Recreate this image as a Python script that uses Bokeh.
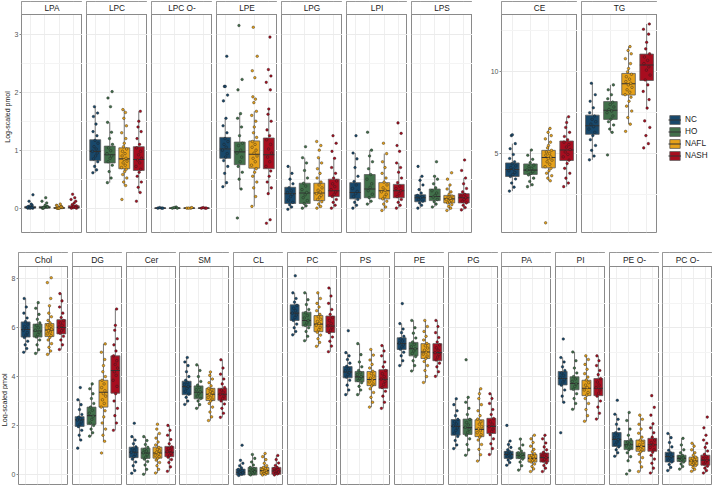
from bokeh.plotting import figure
from bokeh.models import FixedTicker, Range1d, ColumnDataSource, Legend, LegendItem, Grid
from bokeh.layouts import row, column
from bokeh.core.properties import value
from bokeh.embed import file_html
from bokeh.resources import INLINE
import math

# ---------------- data ----------------
GROUPS = ["NC", "HO", "NAFL", "NASH"]
COLORS = ["#18486B", "#41704A", "#E6A11A", "#A80D1F"]

FACETS_TOP_LEFT = ["LPA", "LPC", "LPC O-", "LPE", "LPG", "LPI", "LPS"]
FACETS_TOP_RIGHT = ["CE", "TG"]
FACETS_BOTTOM = ["Chol", "DG", "Cer", "SM", "CL", "PC", "PS", "PE", "PG", "PA", "PI", "PE O-", "PC O-"]

TICKS_TOP_LEFT = [0, 1, 2, 3]
MINOR_TOP_LEFT = [-0.5, 0.5, 1.5, 2.5, 3.5]
TICKS_TOP_RIGHT = [5, 10]
MINOR_TOP_RIGHT = [2.5, 7.5, 12.5]
TICKS_BOTTOM = [0, 2, 4, 6, 8]
MINOR_BOTTOM = [1, 3, 5, 7]
Y_TITLE = "Log-scaled pmol"

# box statistics per facet, order NC, HO, NAFL, NASH
Q1 = {
    "LPA": [0.0, 0.0, 0.0, 0.0], "LPC": [0.82, 0.78, 0.68, 0.65],
    "LPC O-": [-0.005, -0.005, -0.005, -0.005], "LPE": [0.86, 0.75, 0.69, 0.68],
    "LPG": [0.08, 0.08, 0.13, 0.20], "LPI": [0.16, 0.18, 0.16, 0.18],
    "LPS": [0.11, 0.13, 0.09, 0.09], "CE": [3.60, 3.73, 4.13, 4.58],
    "TG": [6.18, 7.09, 8.58, 9.47], "Chol": [5.62, 5.62, 5.64, 5.75],
    "DG": [1.96, 2.04, 2.75, 3.32], "Cer": [0.68, 0.65, 0.66, 0.72],
    "SM": [3.26, 3.09, 3.02, 3.03], "CL": [-0.03, -0.03, 0.0, 0.0],
    "PC": [6.30, 6.07, 5.84, 5.81], "PS": [3.95, 3.79, 3.63, 3.52],
    "PE": [5.11, 4.85, 4.74, 4.65], "PG": [1.60, 1.63, 1.54, 1.67],
    "PA": [0.65, 0.64, 0.50, 0.50], "PI": [3.66, 3.46, 3.22, 3.22],
    "PE O-": [1.14, 1.01, 0.94, 0.94], "PC O-": [0.50, 0.52, 0.37, 0.37],
}
MED = {
    "LPA": [0.01, 0.01, 0.0, 0.01], "LPC": [0.98, 0.92, 0.85, 0.84],
    "LPC O-": [0.0, 0.0, 0.0, 0.0], "LPE": [1.02, 0.97, 0.93, 0.92],
    "LPG": [0.25, 0.26, 0.26, 0.30], "LPI": [0.27, 0.33, 0.30, 0.30],
    "LPS": [0.18, 0.20, 0.16, 0.18], "CE": [4.03, 3.99, 4.76, 5.22],
    "TG": [6.70, 7.65, 9.27, 10.41], "Chol": [5.93, 5.87, 5.91, 6.01],
    "DG": [2.23, 2.40, 3.36, 4.25], "Cer": [0.90, 0.87, 0.87, 0.90],
    "SM": [3.59, 3.36, 3.28, 3.28], "CL": [0.08, 0.13, 0.15, 0.13],
    "PC": [6.60, 6.30, 6.15, 6.07], "PS": [4.19, 3.99, 3.88, 3.89],
    "PE": [5.35, 5.14, 5.01, 4.98], "PG": [1.96, 1.91, 1.84, 1.96],
    "PA": [0.81, 0.78, 0.65, 0.68], "PI": [3.92, 3.72, 3.52, 3.52],
    "PE O-": [1.43, 1.21, 1.14, 1.21], "PC O-": [0.72, 0.65, 0.54, 0.58],
}
Q3 = {
    "LPA": [0.03, 0.03, 0.01, 0.04], "LPC": [1.18, 1.07, 1.04, 1.06],
    "LPC O-": [0.005, 0.005, 0.005, 0.005], "LPE": [1.22, 1.14, 1.16, 1.21],
    "LPG": [0.36, 0.43, 0.43, 0.50], "LPI": [0.44, 0.58, 0.44, 0.41],
    "LPS": [0.23, 0.33, 0.22, 0.25], "CE": [4.43, 4.37, 5.20, 5.77],
    "TG": [7.35, 8.18, 9.90, 11.08], "Chol": [6.24, 6.15, 6.17, 6.33],
    "DG": [2.36, 2.75, 3.85, 4.85], "Cer": [1.11, 1.07, 1.11, 1.14],
    "SM": [3.81, 3.62, 3.52, 3.52], "CL": [0.21, 0.28, 0.28, 0.28],
    "PC": [6.94, 6.64, 6.50, 6.48], "PS": [4.41, 4.21, 4.21, 4.28],
    "PE": [5.59, 5.40, 5.35, 5.35], "PG": [2.24, 2.26, 2.23, 2.29],
    "PA": [0.94, 0.90, 0.81, 0.87], "PI": [4.21, 3.99, 3.85, 3.92],
    "PE O-": [1.71, 1.38, 1.40, 1.47], "PC O-": [0.90, 0.78, 0.70, 0.78],
}
LO = {
    "LPA": [0.0, 0.0, 0.0, 0.0], "LPC": [0.61, 0.44, 0.39, 0.27],
    "LPC O-": [0.0, 0.0, 0.0, 0.0], "LPE": [0.37, 0.33, 0.03, 0.25],
    "LPG": [-0.02, 0.0, 0.0, 0.0], "LPI": [0.0, 0.07, -0.04, 0.0],
    "LPS": [0.0, 0.02, -0.04, -0.03], "CE": [2.71, 2.98, 3.34, 2.98],
    "TG": [4.62, 6.30, 6.80, 7.78], "Chol": [5.00, 4.95, 4.91, 5.11],
    "DG": [1.40, 1.56, 1.35, 1.80], "Cer": [0.15, 0.0, 0.05, 0.12],
    "SM": [2.86, 2.70, 2.20, 2.33], "CL": [-0.05, -0.03, -0.03, -0.03],
    "PC": [5.71, 5.47, 5.24, 5.02], "PS": [3.26, 3.26, 2.75, 2.70],
    "PE": [4.45, 4.23, 3.76, 4.01], "PG": [1.05, 0.78, 0.54, 0.81],
    "PA": [0.37, 0.17, 0.11, 0.11], "PI": [2.95, 2.66, 2.17, 2.26],
    "PE O-": [0.74, 0.55, 0.11, 0.05], "PC O-": [0.15, 0.21, 0.12, 0.05],
}
HI = {
    "LPA": [0.07, 0.07, 0.03, 0.09], "LPC": [1.75, 1.48, 1.70, 1.67],
    "LPC O-": [0.005, 0.005, 0.005, 0.005], "LPE": [1.55, 1.63, 1.67, 1.71],
    "LPG": [0.72, 0.87, 0.87, 0.86], "LPI": [0.95, 1.00, 0.94, 0.78],
    "LPS": [0.55, 0.55, 0.40, 0.52], "CE": [5.61, 5.22, 6.54, 7.25],
    "TG": [9.30, 9.20, 11.54, 12.92], "Chol": [7.20, 7.03, 6.90, 7.40],
    "DG": [3.05, 3.70, 5.34, 6.77], "Cer": [1.54, 1.54, 1.67, 2.00],
    "SM": [4.78, 4.48, 4.19, 4.69], "CL": [0.45, 0.81, 0.85, 0.77],
    "PC": [7.43, 7.43, 7.43, 7.63], "PS": [4.98, 5.35, 5.11, 5.27],
    "PE": [6.17, 6.30, 6.30, 6.30], "PG": [3.09, 3.15, 3.50, 3.30],
    "PA": [1.36, 1.44, 1.60, 1.60], "PI": [4.78, 5.01, 4.85, 4.85],
    "PE O-": [2.46, 2.53, 2.42, 2.07], "PC O-": [1.67, 1.47, 1.27, 1.27],
}

# individual (jittered) samples per facet: [NC, HO, NAFL, NASH]
POINTS = {
    "LPA": [[0.0, 0.01, 0.02, 0.0, 0.03, 0.01, 0.05, 0.02, 0.07, 0.12, 0.23, 0.0, 0.01],
            [0.0, 0.02, 0.01, 0.03, 0.0, 0.05, 0.09, 0.12, 0.18, 0.01, 0.02],
            [0.0, 0.01, 0.0, 0.02, 0.0, 0.01, 0.03, 0.05, 0.07, 0.0, 0.01, 0.0, 0.02, 0.04],
            [0.0, 0.02, 0.01, 0.04, 0.06, 0.09, 0.12, 0.15, 0.18, 0.24, 0.0, 0.03, 0.01]],
    "LPC": [[0.61, 0.66, 0.72, 0.8, 0.85, 0.9, 0.95, 0.98, 1.02, 1.06, 1.12, 1.17, 1.25, 1.32, 1.45, 1.58, 1.64, 1.75],
            [0.44, 0.52, 0.63, 0.74, 0.8, 0.86, 0.9, 0.94, 0.99, 1.04, 1.1, 1.2, 1.31, 1.48, 1.75, 1.9, 2.01],
            [0.15, 0.39, 0.45, 0.52, 0.58, 0.63, 0.67, 0.7, 0.74, 0.78, 0.81, 0.84, 0.86, 0.9, 0.94, 0.98, 1.02, 1.06, 1.12, 1.2, 1.3, 1.42, 1.55, 1.65, 1.7],
            [0.12, 0.27, 0.36, 0.45, 0.55, 0.62, 0.67, 0.72, 0.78, 0.83, 0.86, 0.92, 0.98, 1.04, 1.1, 1.2, 1.32, 1.4, 1.5, 1.67]],
    "LPC O-": [[0.0, 0.0, 0.01, 0.0], [0.0, 0.02, 0.01, 0.0], [0.0, 0.0, 0.0, 0.01], [0.0, 0.0, 0.01, 0.0]],
    "LPE": [[0.37, 0.44, 0.6, 0.72, 0.82, 0.88, 0.94, 1.0, 1.05, 1.1, 1.15, 1.2, 1.3, 1.42, 1.55, 1.85, 1.95, 2.1, 2.1, 2.62],
            [-0.17, 0.33, 0.5, 0.62, 0.72, 0.8, 0.88, 0.95, 1.0, 1.08, 1.12, 1.25, 1.4, 1.55, 1.63, 2.04, 2.22, 3.15],
            [0.03, 0.2, 0.35, 0.45, 0.55, 0.62, 0.68, 0.74, 0.8, 0.86, 0.9, 0.95, 1.0, 1.05, 1.1, 1.15, 1.22, 1.3, 1.4, 1.5, 1.6, 1.67, 1.82, 1.88, 1.92, 2.25, 2.37, 2.62, 3.12],
            [-0.26, -0.2, 0.25, 0.35, 0.45, 0.55, 0.64, 0.72, 0.8, 0.88, 0.95, 1.02, 1.1, 1.18, 1.25, 1.35, 1.5, 1.62, 1.71, 2.04, 2.17, 2.28, 2.39, 2.95]],
    "LPG": [[-0.02, 0.02, 0.06, 0.1, 0.14, 0.2, 0.24, 0.27, 0.3, 0.35, 0.42, 0.5, 0.6, 0.72],
            [0.0, 0.04, 0.08, 0.13, 0.18, 0.23, 0.27, 0.32, 0.38, 0.43, 0.52, 0.65, 0.78, 0.87, 1.06],
            [0.0, 0.03, 0.07, 0.11, 0.15, 0.19, 0.22, 0.25, 0.28, 0.31, 0.35, 0.4, 0.45, 0.52, 0.6, 0.68, 0.78, 0.87, 1.0, 1.08, 1.15],
            [0.0, 0.05, 0.1, 0.15, 0.2, 0.24, 0.28, 0.32, 0.37, 0.42, 0.47, 0.52, 0.6, 0.7, 0.86, 0.98, 1.12, 1.25]],
    "LPI": [[0.0, 0.05, 0.1, 0.15, 0.2, 0.25, 0.29, 0.34, 0.4, 0.46, 0.55, 0.7, 0.85, 0.95, 1.25],
            [0.07, 0.12, 0.18, 0.24, 0.3, 0.36, 0.42, 0.5, 0.58, 0.68, 0.8, 0.9, 1.0, 1.31],
            [-0.04, 0.02, 0.07, 0.12, 0.16, 0.2, 0.24, 0.28, 0.31, 0.35, 0.4, 0.45, 0.52, 0.6, 0.7, 0.8, 0.94, 1.12],
            [0.0, 0.05, 0.1, 0.15, 0.2, 0.25, 0.3, 0.34, 0.38, 0.44, 0.52, 0.62, 0.7, 0.78, 0.98, 1.08, 1.29, 1.47]],
    "LPS": [[0.0, 0.05, 0.09, 0.12, 0.15, 0.18, 0.2, 0.22, 0.26, 0.32, 0.4, 0.48, 0.55, 0.72],
            [0.02, 0.07, 0.11, 0.15, 0.19, 0.22, 0.26, 0.3, 0.35, 0.42, 0.5, 0.55, 0.8],
            [-0.04, 0.0, 0.03, 0.06, 0.09, 0.11, 0.13, 0.15, 0.17, 0.19, 0.21, 0.24, 0.28, 0.33, 0.4, 0.5, 0.61],
            [-0.03, 0.01, 0.05, 0.09, 0.12, 0.15, 0.18, 0.21, 0.24, 0.28, 0.34, 0.42, 0.52, 0.65, 0.83]],
    "CE": [[2.71, 2.95, 3.2, 3.45, 3.6, 3.72, 3.85, 3.95, 4.05, 4.15, 4.25, 4.38, 4.5, 4.7, 4.95, 5.3, 5.61, 6.1, 6.15],
           [2.98, 3.1, 3.3, 3.5, 3.7, 3.8, 3.9, 4.0, 4.1, 4.2, 4.3, 4.45, 4.65, 4.9, 5.22],
           [0.77, 3.34, 3.5, 3.65, 3.8, 3.95, 4.1, 4.2, 4.35, 4.5, 4.6, 4.7, 4.8, 4.9, 5.0, 5.1, 5.2, 5.35, 5.5, 5.7, 5.9, 6.1, 6.3, 6.54],
           [2.98, 3.2, 3.5, 3.8, 4.1, 4.4, 4.6, 4.8, 4.95, 5.1, 5.25, 5.4, 5.55, 5.7, 5.85, 6.05, 6.3, 6.6, 6.9, 7.25]],
    "TG": [[4.62, 4.85, 5.2, 5.5, 5.85, 6.1, 6.3, 6.5, 6.65, 6.8, 6.95, 7.1, 7.3, 7.5, 7.8, 8.2, 8.6, 9.3],
           [4.92, 6.3, 6.5, 6.75, 6.95, 7.1, 7.3, 7.5, 7.6, 7.7, 7.85, 8.0, 8.15, 8.35, 8.6, 8.9, 9.2],
           [6.36, 6.8, 7.2, 7.6, 7.9, 8.2, 8.45, 8.6, 8.75, 8.9, 9.05, 9.2, 9.3, 9.4, 9.55, 9.7, 9.85, 10.0, 10.2, 10.5, 10.8, 11.1, 11.3, 11.54],
           [5.35, 5.61, 6.1, 6.6, 7.0, 7.78, 8.3, 8.8, 9.2, 9.5, 9.8, 10.1, 10.3, 10.5, 10.7, 10.9, 11.1, 11.4, 11.8, 12.3, 12.6, 12.92]],
    "Chol": [[5.0, 5.15, 5.3, 5.45, 5.6, 5.7, 5.8, 5.9, 5.98, 6.05, 6.15, 6.25, 6.4, 6.6, 6.85, 7.2],
             [4.95, 5.1, 5.3, 5.5, 5.62, 5.72, 5.82, 5.9, 6.0, 6.1, 6.2, 6.35, 6.55, 6.8, 7.03],
             [4.91, 5.05, 5.2, 5.35, 5.5, 5.6, 5.68, 5.75, 5.82, 5.88, 5.94, 6.0, 6.06, 6.12, 6.2, 6.3, 6.45, 6.6, 6.9, 7.2, 7.85, 8.05],
             [5.11, 5.3, 5.5, 5.65, 5.78, 5.88, 5.96, 6.03, 6.1, 6.2, 6.3, 6.42, 6.6, 6.85, 7.1, 7.4]],
    "DG": [[1.07, 1.4, 1.6, 1.8, 1.95, 2.05, 2.15, 2.22, 2.28, 2.34, 2.45, 2.65, 2.85, 3.05, 3.55],
           [1.56, 1.7, 1.85, 2.0, 2.1, 2.25, 2.38, 2.5, 2.62, 2.75, 2.9, 3.1, 3.3, 3.5, 3.7],
           [0.87, 1.35, 1.6, 1.85, 2.1, 2.35, 2.6, 2.75, 2.9, 3.05, 3.2, 3.3, 3.42, 3.55, 3.7, 3.85, 4.0, 4.2, 4.45, 4.7, 5.0, 5.34],
           [1.8, 2.1, 2.4, 2.7, 3.0, 3.3, 3.6, 3.85, 4.05, 4.2, 4.35, 4.5, 4.65, 4.85, 5.05, 5.3, 5.55, 5.9, 6.1, 6.77]],
    "Cer": [[0.04, 0.15, 0.35, 0.5, 0.62, 0.72, 0.82, 0.9, 0.97, 1.05, 1.12, 1.25, 1.4, 1.54, 2.09],
            [0.0, 0.2, 0.38, 0.52, 0.62, 0.7, 0.8, 0.88, 0.95, 1.02, 1.1, 1.22, 1.38, 1.54],
            [0.05, 0.2, 0.35, 0.48, 0.58, 0.66, 0.72, 0.78, 0.84, 0.9, 0.96, 1.02, 1.1, 1.2, 1.32, 1.48, 1.67, 1.85, 2.05],
            [0.12, 0.3, 0.48, 0.6, 0.7, 0.78, 0.86, 0.92, 0.98, 1.05, 1.12, 1.25, 1.42, 1.6, 1.8, 2.0]],
    "SM": [[2.86, 3.0, 3.15, 3.28, 3.4, 3.52, 3.6, 3.68, 3.76, 3.85, 4.0, 4.2, 4.45, 4.6, 4.78],
           [2.7, 2.85, 3.0, 3.1, 3.2, 3.3, 3.38, 3.46, 3.55, 3.65, 3.8, 4.0, 4.25, 4.48],
           [2.2, 2.35, 2.55, 2.75, 2.9, 3.0, 3.08, 3.15, 3.22, 3.28, 3.34, 3.4, 3.46, 3.52, 3.62, 3.75, 3.9, 4.05, 4.19],
           [2.33, 2.5, 2.7, 2.88, 3.0, 3.1, 3.2, 3.28, 3.36, 3.45, 3.55, 3.7, 3.9, 4.1, 4.35, 4.69]],
    "CL": [[-0.05, 0.0, 0.03, 0.06, 0.09, 0.12, 0.16, 0.2, 0.26, 0.35, 0.45, 0.57, 1.19],
           [-0.03, 0.02, 0.06, 0.1, 0.14, 0.18, 0.23, 0.28, 0.38, 0.5, 0.65, 0.81],
           [-0.03, 0.0, 0.04, 0.08, 0.11, 0.14, 0.17, 0.2, 0.24, 0.28, 0.35, 0.45, 0.6, 0.72, 0.85],
           [-0.03, 0.01, 0.05, 0.09, 0.12, 0.15, 0.19, 0.23, 0.28, 0.36, 0.46, 0.6, 0.77]],
    "PC": [[5.71, 5.85, 6.0, 6.15, 6.3, 6.42, 6.52, 6.6, 6.7, 6.8, 6.92, 7.05, 7.2, 7.43, 8.13],
           [5.47, 5.65, 5.85, 6.0, 6.1, 6.2, 6.3, 6.4, 6.5, 6.62, 6.75, 6.95, 7.15, 7.43],
           [5.24, 5.4, 5.55, 5.7, 5.82, 5.92, 6.02, 6.1, 6.18, 6.26, 6.35, 6.45, 6.55, 6.7, 6.85, 7.0, 7.2, 7.43],
           [5.02, 5.25, 5.45, 5.62, 5.8, 5.9, 6.0, 6.08, 6.18, 6.3, 6.42, 6.55, 6.75, 7.0, 7.3, 7.63]],
    "PS": [[3.26, 3.45, 3.65, 3.85, 3.98, 4.08, 4.16, 4.24, 4.32, 4.42, 4.55, 4.7, 4.85, 4.98, 5.88],
           [3.26, 3.45, 3.6, 3.75, 3.84, 3.92, 4.0, 4.08, 4.16, 4.25, 4.4, 4.6, 4.9, 5.35],
           [2.75, 2.95, 3.15, 3.35, 3.5, 3.62, 3.7, 3.78, 3.86, 3.94, 4.02, 4.12, 4.22, 4.35, 4.5, 4.68, 4.88, 5.11],
           [2.7, 2.95, 3.2, 3.4, 3.55, 3.68, 3.8, 3.9, 4.0, 4.12, 4.25, 4.4, 4.6, 4.85, 5.05, 5.27]],
    "PE": [[4.45, 4.65, 4.85, 5.0, 5.12, 5.22, 5.3, 5.38, 5.46, 5.55, 5.65, 5.8, 5.95, 6.17, 6.99],
           [4.23, 4.45, 4.65, 4.82, 4.95, 5.05, 5.14, 5.22, 5.32, 5.42, 5.58, 5.78, 6.0, 6.3],
           [3.76, 4.0, 4.25, 4.45, 4.62, 4.74, 4.84, 4.92, 5.0, 5.08, 5.17, 5.26, 5.36, 5.5, 5.65, 5.85, 6.05, 6.3],
           [4.01, 4.2, 4.4, 4.55, 4.68, 4.8, 4.9, 4.98, 5.08, 5.18, 5.3, 5.42, 5.6, 5.8, 6.05, 6.3]],
    "PG": [[1.05, 1.2, 1.38, 1.55, 1.68, 1.8, 1.9, 1.98, 2.06, 2.15, 2.25, 2.4, 2.6, 2.85, 3.09],
           [0.78, 1.0, 1.22, 1.45, 1.6, 1.72, 1.84, 1.93, 2.02, 2.12, 2.25, 2.45, 2.7, 2.95, 3.15, 4.69],
           [0.54, 0.8, 1.02, 1.22, 1.4, 1.52, 1.62, 1.7, 1.78, 1.86, 1.95, 2.05, 2.15, 2.26, 2.4, 2.6, 2.85, 3.1, 3.3, 3.5],
           [0.81, 1.05, 1.25, 1.45, 1.62, 1.75, 1.85, 1.95, 2.05, 2.15, 2.28, 2.45, 2.65, 2.9, 3.1, 3.3]],
    "PA": [[0.37, 0.48, 0.58, 0.66, 0.72, 0.78, 0.83, 0.88, 0.93, 1.0, 1.1, 1.22, 1.36, 2.0],
           [0.17, 0.35, 0.5, 0.62, 0.7, 0.76, 0.82, 0.88, 0.95, 1.05, 1.2, 1.44],
           [0.11, 0.22, 0.32, 0.42, 0.5, 0.56, 0.62, 0.67, 0.72, 0.78, 0.84, 0.92, 1.02, 1.15, 1.3, 1.45, 1.6],
           [0.11, 0.25, 0.36, 0.46, 0.54, 0.61, 0.68, 0.75, 0.82, 0.9, 1.0, 1.12, 1.28, 1.45, 1.6]],
    "PI": [[1.70, 2.95, 3.2, 3.45, 3.65, 3.78, 3.88, 3.96, 4.05, 4.15, 4.25, 4.4, 4.6, 4.78, 5.54],
           [2.66, 2.9, 3.1, 3.3, 3.48, 3.6, 3.7, 3.8, 3.9, 4.0, 4.15, 4.35, 4.65, 5.01],
           [2.17, 2.4, 2.65, 2.9, 3.1, 3.24, 3.35, 3.45, 3.55, 3.65, 3.75, 3.86, 3.98, 4.12, 4.3, 4.5, 4.7, 4.85],
           [2.26, 2.5, 2.75, 3.0, 3.2, 3.32, 3.45, 3.55, 3.65, 3.78, 3.92, 4.08, 4.25, 4.45, 4.65, 4.85]],
    "PE O-": [[0.74, 0.88, 1.0, 1.12, 1.22, 1.32, 1.42, 1.5, 1.6, 1.7, 1.85, 2.05, 2.25, 2.46, 3.03],
              [0.01, 0.15, 0.55, 0.72, 0.88, 1.0, 1.08, 1.16, 1.24, 1.32, 1.42, 1.6, 1.85, 2.2, 2.53],
              [0.11, 0.3, 0.5, 0.68, 0.82, 0.92, 1.0, 1.07, 1.14, 1.21, 1.3, 1.4, 1.52, 1.68, 1.85, 2.05, 2.25, 2.42],
              [0.05, 0.25, 0.45, 0.62, 0.78, 0.9, 1.0, 1.1, 1.2, 1.3, 1.4, 1.52, 1.7, 1.9, 2.07, 2.42, 2.74, 3.22]],
    "PC O-": [[0.15, 0.28, 0.4, 0.5, 0.58, 0.66, 0.73, 0.8, 0.88, 0.98, 1.12, 1.3, 1.5, 1.67],
              [0.21, 0.32, 0.42, 0.5, 0.56, 0.62, 0.67, 0.72, 0.78, 0.88, 1.0, 1.2, 1.47],
              [0.12, 0.2, 0.28, 0.35, 0.4, 0.46, 0.51, 0.55, 0.6, 0.65, 0.7, 0.78, 0.88, 1.0, 1.15, 1.27],
              [0.05, 0.15, 0.25, 0.33, 0.42, 0.5, 0.57, 0.64, 0.72, 0.82, 0.95, 1.1, 1.27, 1.4, 1.6, 1.9, 2.34]],
}

# ---------------- style ----------------
FONT = "Liberation Sans"
BORDER = "#8A8A8A"
BOX_LINE = "#5A5A5A"
MED_LINE = "#333333"
JITTER = [-0.12, 0.07, -0.03, 0.13, -0.08, 0.02, 0.10, -0.14, 0.05, -0.06, 0.14, -0.01,
          0.09, -0.11, 0.04, -0.09, 0.12, -0.04, 0.0, 0.08, -0.13, 0.11, -0.02, 0.06,
          -0.07, 0.03, -0.10, 0.15, -0.05]
JITTER_SCALE = 1.35
XS = [1, 2, 3, 4]
BOX_W = 0.75


def make_facet(name, lims, ticks, minor, frame_w, frame_h, strip_px, left, top, bottom,
               with_axis=False, axis_title=None, title_px="7px", tick_px="7px", strip_font="8.3px"):
    ymin, ymax = lims
    ytop = ymax + strip_px * (ymax - ymin) / (frame_h - strip_px)
    p = figure(frame_width=frame_w, frame_height=frame_h,
               x_range=Range1d(0.4, 4.6), y_range=Range1d(ymin, ytop),
               x_axis_location=None, y_axis_location="left" if with_axis else None,
               output_backend="svg", toolbar_location=None,
               min_border_left=left, min_border_right=0,
               min_border_top=top, min_border_bottom=bottom)
    p.outline_line_color = BORDER
    p.outline_line_width = 1

    tk = FixedTicker(ticks=ticks, minor_ticks=minor)
    ygr = list(p.ygrid)
    if not ygr:
        g = Grid(dimension=1)
        p.add_layout(g, "center")
        ygr = [g]
    for g in ygr:
        g.ticker = tk
        g.grid_line_color = "#EBEBEB"
        g.grid_line_width = 1
        g.minor_grid_line_color = "#F4F4F4"
        g.minor_grid_line_width = 1
    xgr = list(p.xgrid)
    if not xgr:
        g = Grid(dimension=0)
        p.add_layout(g, "center")
        xgr = [g]
    for g in xgr:
        g.ticker = FixedTicker(ticks=XS)
        g.grid_line_color = "#EFEFEF"
        g.grid_line_width = 1

    if with_axis:
        ax = p.yaxis[0]
        ax.ticker = FixedTicker(ticks=ticks, minor_ticks=minor)
        ax.axis_line_color = None
        ax.major_tick_out = 2
        ax.major_tick_in = 0
        ax.minor_tick_out = 0
        ax.minor_tick_in = 0
        ax.major_tick_line_color = BORDER
        ax.major_label_text_font_size = tick_px
        ax.major_label_text_color = "#555555"
        ax.major_label_text_font = FONT
        ax.major_label_standoff = 1
        if axis_title:
            ax.axis_label = axis_title
            ax.axis_label_text_font_size = title_px
            ax.axis_label_text_font_style = "normal"
            ax.axis_label_text_font = FONT
            ax.axis_label_text_color = "#1A1A1A"
            ax.axis_label_standoff = 1

    # facet strip
    p.quad(left=[0.4], right=[4.6], bottom=[ymax], top=[ytop],
           fill_color="white", line_color=BORDER, line_width=1)
    p.text(x=[2.5], y=[(ymax + ytop) / 2], text=[name], text_align="center",
           text_baseline="middle", text_font_size=strip_font, text_font=value(FONT),
           text_color="#1A1A1A")

    # boxplots
    q1, md, q3, lo, hi = Q1[name], MED[name], Q3[name], LO[name], HI[name]
    p.segment(x0=XS, y0=q3, x1=XS, y1=hi, line_color=BOX_LINE, line_width=0.8)
    p.segment(x0=XS, y0=q1, x1=XS, y1=lo, line_color=BOX_LINE, line_width=0.8)
    p.vbar(x=XS, width=BOX_W, bottom=q1, top=q3, fill_color=COLORS,
           line_color=BOX_LINE, line_width=0.8)
    p.segment(x0=[x - BOX_W / 2 for x in XS], y0=md, x1=[x + BOX_W / 2 for x in XS], y1=md,
              line_color=MED_LINE, line_width=1.1)

    # jittered points
    for gi, vals in enumerate(POINTS[name]):
        px = [XS[gi] + JITTER_SCALE * JITTER[k % len(JITTER)] for k in range(len(vals))]
        p.scatter(px, vals, size=2.6, marker="circle", fill_color=COLORS[gi],
                  line_color="#1E1E1E", line_width=0.4)
    return p


# ---------------- layout ----------------
TOP_H, TOP_STRIP = 231, 13
BOT_H, BOT_STRIP = 232, 14
LIM_TOP_LEFT = (-0.42, 3.34)
LIM_TOP_RIGHT = (0.18, 13.5)
LIM_BOTTOM = (-0.42, 8.51)
AXIS_W = 16
BOT_FIG_H = BOT_H + 20
BOT_GAPS = [4, 4, 3, 4, 4, 3, 4, 4, 3, 4, 4, 3]

top_figs = []
for i, f in enumerate(FACETS_TOP_LEFT):
    top_figs.append(make_facet(f, LIM_TOP_LEFT, TICKS_TOP_LEFT, MINOR_TOP_LEFT, 61, TOP_H, TOP_STRIP,
                               AXIS_W if i == 0 else 4, 1, 1, with_axis=(i == 0),
                               axis_title=Y_TITLE if i == 0 else None, title_px="7px", tick_px="7px"))
for i, f in enumerate(FACETS_TOP_RIGHT):
    top_figs.append(make_facet(f, LIM_TOP_RIGHT, TICKS_TOP_RIGHT, MINOR_TOP_RIGHT, 76, TOP_H, TOP_STRIP,
                               29 if i == 0 else 4, 1, 1, with_axis=(i == 0), tick_px="7px"))

# legend panel
lp = figure(width=51, height=TOP_H + 2, x_range=Range1d(0, 1), y_range=Range1d(0, 1),
            x_axis_location=None, y_axis_location=None, toolbar_location=None,
            output_backend="svg", min_border=0)
lp.outline_line_color = None
lp.xgrid.visible = False
lp.ygrid.visible = False
items = []
for g, c in zip(GROUPS, COLORS):
    # legend-only renderers, placed outside the visible range
    src = ColumnDataSource(data=dict(l=[5], r=[6], b=[5], t=[6]))
    r1 = lp.quad(left="l", right="r", bottom="b", top="t", source=src,
                 fill_color=c, line_color=BOX_LINE, line_width=0.8)
    r2 = lp.segment(x0="l", y0="b", x1="r", y1="t", source=src,
                    line_color=MED_LINE, line_width=1)
    items.append(LegendItem(label=g, renderers=[r1, r2]))
leg = Legend(items=items, location=(11, 71), orientation="vertical",
             border_line_color=None, background_fill_alpha=0, padding=0, margin=0,
             spacing=1, glyph_width=13, glyph_height=11, label_height=11, label_width=10,
             label_standoff=4, label_text_font_size="8.2px", label_text_font=FONT,
             label_text_color="#1A1A1A")
lp.add_layout(leg)
top_figs.append(lp)

# narrow panel holding the bottom y-axis title (off-centre, as in the original)
TITLE_W = 8
tp = figure(width=TITLE_W, height=BOT_FIG_H, x_range=Range1d(0, 1), y_range=Range1d(0, BOT_FIG_H),
            x_axis_location=None, y_axis_location=None, toolbar_location=None,
            output_backend="svg", min_border=0)
tp.outline_line_color = None
tp.xgrid.visible = False
tp.ygrid.visible = False
tp.text(x=[0.55], y=[92], text=[Y_TITLE], angle=math.pi / 2, text_align="center",
        text_baseline="middle", text_font_size="7.2px", text_font=value(FONT), text_color="#1A1A1A")

bot_figs = [tp]
for i, f in enumerate(FACETS_BOTTOM):
    bot_figs.append(make_facet(f, LIM_BOTTOM, TICKS_BOTTOM, MINOR_BOTTOM, 50, BOT_H, BOT_STRIP,
                               AXIS_W - TITLE_W if i == 0 else BOT_GAPS[i - 1], 19, 1,
                               with_axis=(i == 0), tick_px="7px", strip_font="8.5px"))

layout = column(row(top_figs), row(bot_figs))
open("out.html", "w").write(file_html(layout, INLINE))
